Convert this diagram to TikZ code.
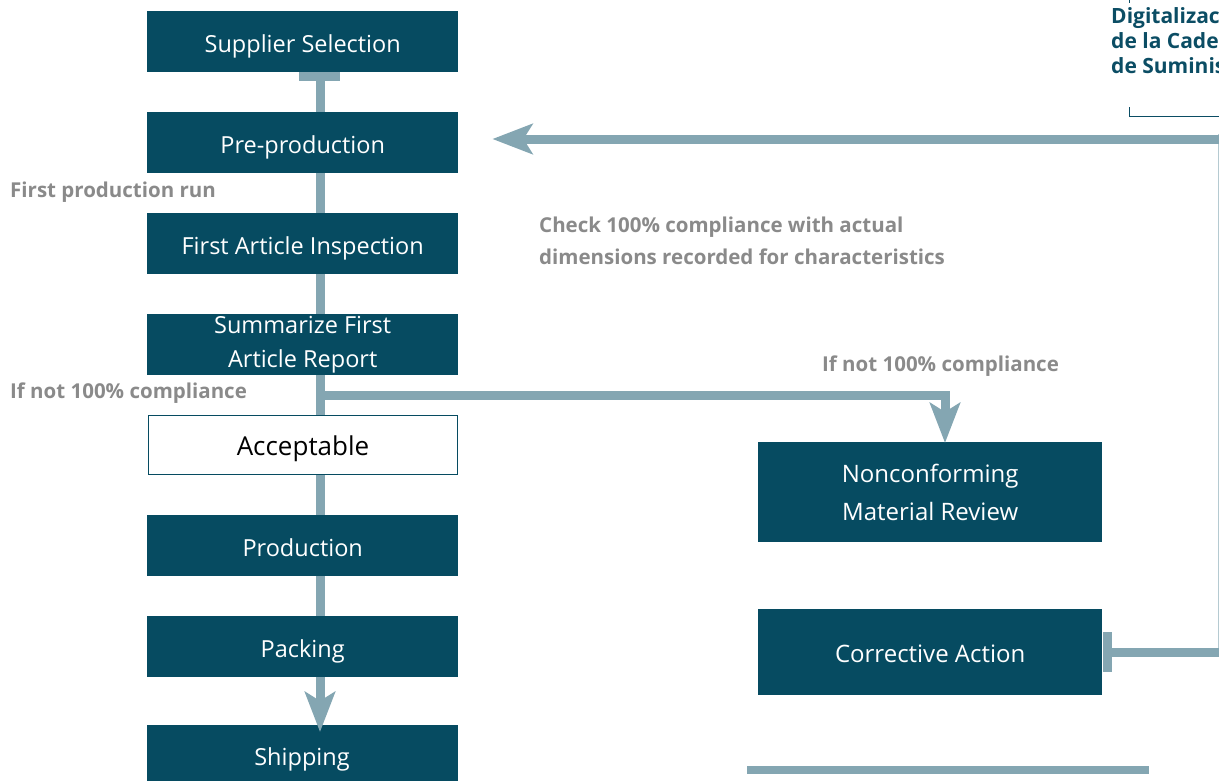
\documentclass[tikz,border=0pt]{standalone}
\usepackage{fontspec}
\setmainfont{Open Sans}
\usetikzlibrary{arrows.meta}
\definecolor{boxteal}{HTML}{064B61}
\definecolor{linkblue}{HTML}{84A6B2}
\definecolor{notegray}{HTML}{8A8A8A}
\definecolor{titleteal}{HTML}{0B4D64}
\tikzset{
  stagebox/.style={fill=boxteal, text=white, minimum width=311pt, minimum height=61pt,
    inner sep=0pt, align=center, font=\fontsize{23.5}{34}\selectfont, anchor=north west},
  oneline/.style={text height=20.8pt, text depth=0pt},
  openbox/.style={draw=boxteal, line width=1.5pt, fill=white, text=black, minimum width=309pt,
    minimum height=59pt, inner sep=0pt, font=\fontsize{26}{30}\selectfont, anchor=north west},
  sidebox/.style={fill=boxteal, text=white, minimum width=344pt, inner sep=0pt, align=center,
    font=\fontsize{24}{38}\selectfont, anchor=north west},
  flow/.style={draw=linkblue, line width=9pt},
  flowhead/.style={flow, -{Stealth[length=40pt, width=30pt, inset=9pt]}},
  note/.style={text=notegray, font=\bfseries\fontsize{20.5}{32}\selectfont, anchor=west, align=left, inner sep=0pt},
}
\begin{document}
\begin{tikzpicture}[x=1pt, y=-1pt]
\useasboundingbox (0,0) rectangle (1219,780);
\clip (0,0) rectangle (1219,780);

% connectors sit behind the boxes
\coordinate (spine top) at (320,72);
\coordinate (spine bottom) at (320,680);
\draw[flow] (spine top) -- (spine bottom);
\fill[linkblue] (299,72) rectangle (340,81);

% feedback loop on the right edge
\coordinate (loop top) at (1219,139);
\coordinate (loop bottom) at (1219,652);
\draw[linkblue!60, line width=1pt] (1218.5,134) -- (1218.5,657);

% left column
\node[stagebox, oneline] (sup) at (147,11) {Supplier Selection};
\node[stagebox, oneline] (pre) at (147,112) {Pre-production};
\node[stagebox, oneline] (fai) at (147,213) {First Article Inspection};
\node[stagebox] (sum) at (147,314) {\rule{0pt}{4pt}Summarize First\\Article Report};
\node[openbox, oneline] (acc) at (147.75,414.75) {Acceptable};
\node[stagebox, oneline] (prod) at (147,515) {Production};
\node[stagebox, oneline] (pack) at (147,616) {Packing};
\node[stagebox, minimum height=70pt] (ship) at (147,725) {};
\node[text=white, font=\fontsize{23.5}{28}\selectfont] (shiplabel) at (302,759.5) {Shipping};

% right column
\node[sidebox, minimum height=100pt] (ncr) at (758,442) {Nonconforming\\Material Review};
\node[sidebox, oneline, minimum height=86pt] (car) at (758,609) {Corrective Action};

% arrows
\draw[flowhead] (pack.south -| spine top) -- ([yshift=-7pt]ship.north -| spine top);
\coordinate (branch) at (320,395);
\draw[flow, -{Stealth[length=40pt, width=30pt, inset=9pt]}] (branch) -- (945,395) -- ([yshift=-1pt]ncr.north -| 945,0);
\draw[flowhead] (loop top) -- ([xshift=34pt]pre.east |- loop top);
\draw[flow] (loop bottom) -- ([xshift=9pt]car.east |- loop bottom);
\fill[linkblue] (1103,632) rectangle (1112,672);

% bottom rule
\coordinate (rule a) at (747,770);
\coordinate (rule b) at (1149,770);
\draw[draw=linkblue, line width=8pt] (rule a) -- (rule b);

% notes
\node[note] (n1) at (10,192) {First production run};
\node[note] (n2) at (10,393) {If not 100\% compliance};
\node[note] (n3) at (539,241) {Check 100\% compliance with actual\\dimensions recorded for characteristics};
\node[note] (n4) at (822,366) {If not 100\% compliance};

% heading at top right with its bracket
\node[text=titleteal, anchor=north west, align=left, inner sep=0pt,
      font=\bfseries\fontsize{21}{25}\selectfont] (head) at (1111,7) {Digitalización\\de la Cadena\\de Suministro};
\draw[titleteal, line width=1pt] (1129,0) -- (1129,3);
\draw[titleteal, line width=1pt] (1129,107) -- (1129,116) -- (1219,116);
\end{tikzpicture}
\end{document}
